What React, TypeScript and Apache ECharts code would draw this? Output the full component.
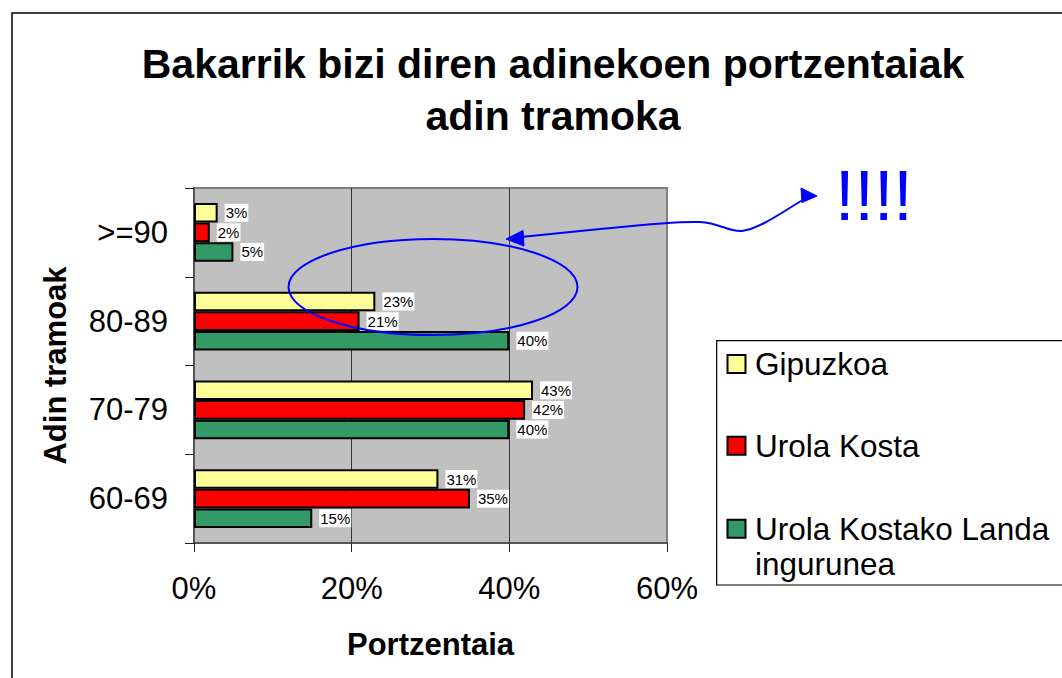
import React, { useEffect, useRef } from 'react';
import * as echarts from 'echarts';

// ---- data ----
const categories = ['>=90', '80-89', '70-79', '60-69'];
const seriesNames = ['Gipuzkoa', 'Urola Kosta', 'Urola Kostako Landa ingurunea'];
const gipuzkoa = [3, 23, 43, 31];
const urolaKosta = [2, 21, 42, 35];
const landa = [5, 40, 40, 15];
const seriesValues = [gipuzkoa, urolaKosta, landa];
const xMin = 0;
const xMax = 60;
const xStep = 20;
const titleLines = ['Bakarrik bizi diren adinekoen portzentaiak', 'adin tramoka'];
const xAxisName = 'Portzentaia';
const yAxisName = 'Adin tramoak';
const legendLabels = ['Gipuzkoa', 'Urola Kosta', 'Urola Kostako Landa\ningurunea'];
const noteText = '!!!!';

// ---- styles ----
const seriesColors = ['#FFFF99', '#FF0000', '#339966'];
const FONT = '"Liberation Sans", Arial, Helvetica, sans-serif';
const BLUE = '#0000FF';

echarts.graphic.registerShape(
  'annotArrow',
  echarts.graphic.extendPath(
    'M 521 237 L 600 229 C 640 225, 675 221, 700 222 C 720 223, 728 232, 742 231 C 760 229, 785 210, 803 200',
    {}
  )
);

export default function App() {
  const ref = useRef<HTMLDivElement>(null);

  useEffect(() => {
    document.body.style.margin = '0';
    if (!ref.current) return;
    const chart = echarts.init(ref.current, undefined, { renderer: 'svg' });

    const legendY = [346.5, 428.3, 511.3];

    const graphic: any[] = [
      {
        type: 'rect',
        z: 100,
        shape: { x: 12, y: 13, width: 1200, height: 800 },
        style: { fill: 'none', stroke: '#000', lineWidth: 1.5 },
        silent: true,
      },
      {
        type: 'text',
        z: 100,
        x: 553,
        y: 63.7,
        style: {
          text: titleLines[0],
          fill: '#000',
          font: `bold 41px ${FONT}`,
          align: 'center',
          verticalAlign: 'middle',
          textAlign: 'center',
          textVerticalAlign: 'middle',
        },
      },
      {
        type: 'text',
        z: 100,
        x: 553,
        y: 115.5,
        style: {
          text: titleLines[1],
          fill: '#000',
          font: `bold 41px ${FONT}`,
          align: 'center',
          verticalAlign: 'middle',
          textAlign: 'center',
          textVerticalAlign: 'middle',
        },
      },
      {
        type: 'text',
        z: 100,
        x: 430.5,
        y: 644,
        style: {
          text: xAxisName,
          fill: '#000',
          font: `bold 31px ${FONT}`,
          align: 'center',
          verticalAlign: 'middle',
          textAlign: 'center',
          textVerticalAlign: 'middle',
        },
      },
      {
        type: 'text',
        z: 100,
        x: 55,
        y: 365.5,
        rotation: Math.PI / 2,
        style: {
          text: yAxisName,
          fill: '#000',
          font: `bold 31px ${FONT}`,
          align: 'center',
          verticalAlign: 'middle',
          textAlign: 'center',
          textVerticalAlign: 'middle',
        },
      },
      // legend box
      {
        type: 'rect',
        z: 100,
        shape: { x: 716.7, y: 340.7, width: 500, height: 244.3 },
        style: { fill: '#fff', stroke: '#000', lineWidth: 1.2 },
      },
      ...legendLabels.map((lbl, i) => ({
        type: 'rect',
        z: 101,
        shape: { x: 727.5, y: legendY[i] + 17.5 - 9, width: 18, height: 18 },
        style: { fill: seriesColors[i], stroke: '#000', lineWidth: 2 },
      })),
      ...legendLabels.map((lbl, i) => ({
        type: 'text',
        z: 101,
        x: 755,
        y: legendY[i],
        style: {
          text: lbl,
          fill: '#000',
          font: `31.5px ${FONT}`,
          lineHeight: 35,
          align: 'left',
          verticalAlign: 'top',
          textAlign: 'left',
          textVerticalAlign: 'top',
        },
      })),
      // annotation
      {
        type: 'ellipse',
        z: 110,
        shape: { cx: 433, cy: 287, rx: 144.5, ry: 48 },
        style: { fill: 'none', stroke: BLUE, lineWidth: 2 },
      },
      {
        type: 'annotArrow',
        z: 110,
        x: 0,
        y: 0,
        style: { fill: 'none', stroke: BLUE, lineWidth: 2 },
      },
      {
        type: 'polygon',
        z: 110,
        shape: { points: [[506, 239], [523, 230.5], [524, 246]] },
        style: { fill: BLUE, stroke: BLUE, lineWidth: 1 },
      },
      {
        type: 'polygon',
        z: 110,
        shape: { points: [[817, 196], [801, 188], [802, 202.5]] },
        style: { fill: BLUE, stroke: BLUE, lineWidth: 1 },
      },
      {
        type: 'text',
        z: 110,
        x: 835,
        y: 196.3,
        style: {
          text: noteText,
          fill: BLUE,
          font: `70px ${FONT}`,
          align: 'left',
          verticalAlign: 'middle',
          textAlign: 'left',
          textVerticalAlign: 'middle',
        },
      },
    ];

    const option: any = {
      animation: false,
      backgroundColor: '#fff',
      textStyle: { fontFamily: FONT },
      grid: {
        left: 194,
        right: 395,
        top: 188,
        bottom: 135,
        show: true,
        backgroundColor: '#C0C0C0',
        borderColor: '#808080',
        borderWidth: 2,
        containLabel: false,
        outerBoundsMode: 'none',
      },
      xAxis: {
        type: 'value',
        min: xMin,
        max: xMax,
        interval: xStep,
        axisLabel: {
          formatter: '{value}%',
          fontSize: 31,
          color: '#000',
          margin: 30,
          fontFamily: FONT,
        },
        axisLine: { show: true, lineStyle: { color: '#555', width: 2 } },
        axisTick: { show: true, length: 9, lineStyle: { color: '#222', width: 1 } },
        splitLine: {
          show: true,
          showMinLine: false,
          showMaxLine: false,
          lineStyle: { color: '#333', width: 1 },
        },
      },
      yAxis: {
        type: 'category',
        inverse: true,
        data: categories,
        axisLabel: { fontSize: 31, color: '#000', margin: 26, fontFamily: FONT },
        axisLine: { show: true, lineStyle: { color: '#555', width: 2 } },
        axisTick: {
          show: true,
          length: 9,
          alignWithLabel: false,
          interval: 0,
          lineStyle: { color: '#222', width: 1 },
        },
        splitLine: { show: false },
      },
      series: seriesValues.map((vals, i) => ({
        type: 'bar',
        name: seriesNames[i],
        data: vals,
        barGap: '0%',
        barCategoryGap: '34%',
        itemStyle: { color: seriesColors[i], borderColor: '#000', borderWidth: 2 },
        label: {
          show: true,
          position: 'right',
          distance: 7,
          formatter: '{c}%',
          fontSize: 15,
          color: '#000',
          fontFamily: FONT,
          backgroundColor: '#fff',
          padding: [2, 1, 1, 1],
        },
      })),
      graphic,
    };

    chart.setOption(option);
    return () => {
      chart.dispose();
    };
  }, []);

  return <div ref={ref} style={{ width: 1062, height: 678 }} />;
}
